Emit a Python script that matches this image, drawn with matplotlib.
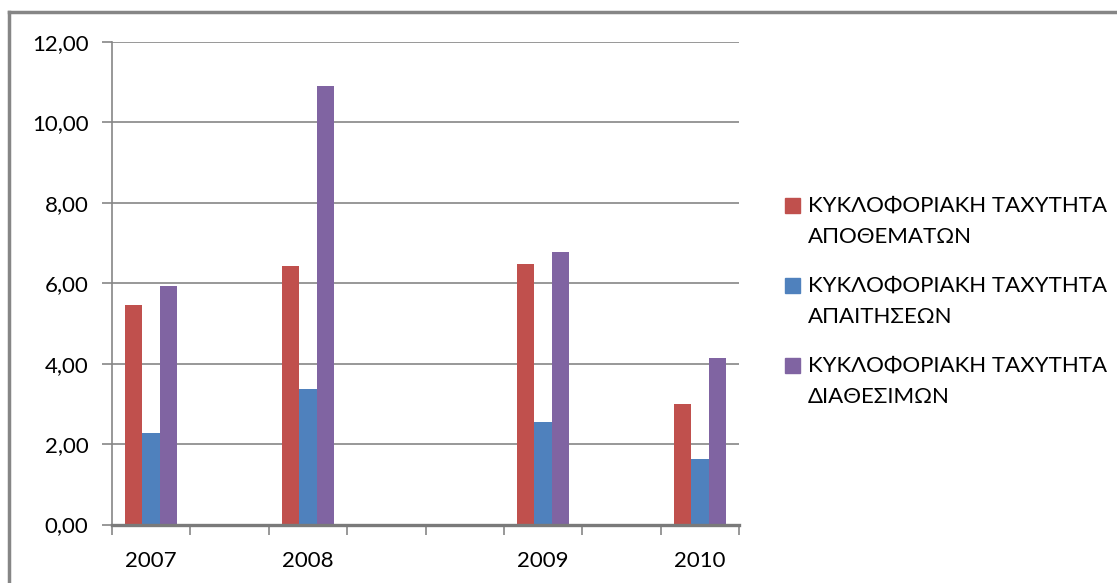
import matplotlib.pyplot as plt
import numpy as np
from matplotlib.ticker import FuncFormatter, FixedLocator
from matplotlib.lines import Line2D
from matplotlib.patches import Rectangle

# category axis with empty slots between the years
years = ['2007', '', '2008', '', '', '2009', '', '2010']
apothemata = [5.45, np.nan, 6.42, np.nan, np.nan, 6.47, np.nan, 2.99]
apaitiseis = [2.27, np.nan, 3.36, np.nan, np.nan, 2.54, np.nan, 1.64]
diathesima = [5.92, np.nan, 10.90, np.nan, np.nan, 6.77, np.nan, 4.13]
names = ['ΚΥΚΛΟΦΟΡΙΑΚΗ ΤΑΧΥΤΗΤΑ\nΑΠΟΘΕΜΑΤΩΝ',
         'ΚΥΚΛΟΦΟΡΙΑΚΗ ΤΑΧΥΤΗΤΑ\nΑΠΑΙΤΗΣΕΩΝ',
         'ΚΥΚΛΟΦΟΡΙΑΚΗ ΤΑΧΥΤΗΤΑ\nΔΙΑΘΕΣΙΜΩΝ']
colors = ['#C0504D', '#4F81BD', '#8064A2']

plt.rcParams['font.family'] = ['Lato', 'DejaVu Sans']
W, H = 1117, 583
fig = plt.figure(figsize=(W / 100, H / 100), dpi=100)
ax = fig.add_axes([112 / W, 1 - 524.5 / H, 627 / W, (524.5 - 42) / H])

x = np.arange(len(years))
w = 1 / 4.5
for i, (vals, c) in enumerate(zip([apothemata, apaitiseis, diathesima], colors)):
  ax.bar(x + (i - 1) * w, vals, width=w, color=c, zorder=3)

ax.set_xlim(-0.5, len(years) - 0.5)
ax.set_ylim(0, 12)
ax.set_yticks(np.arange(0, 12.1, 2))
ax.yaxis.set_major_formatter(FuncFormatter(lambda v, p: f'{v:.2f}'.replace('.', ',')))
ax.grid(axis='y', color='#868686', lw=1.2, zorder=0)

ax.set_xticks(x)
ax.set_xticklabels(years)
ax.xaxis.set_minor_locator(FixedLocator(np.arange(-0.5, len(years), 1)))
ax.tick_params(axis='x', which='major', length=0, pad=19, labelsize=16)
ax.tick_params(axis='x', which='minor', length=7, color='#868686', width=1.2)
ax.tick_params(axis='y', length=7, color='#868686', width=1.2, pad=10, labelsize=16)

for s in ['top', 'right']:
  ax.spines[s].set_visible(False)
ax.spines['left'].set_color('#868686')
ax.spines['left'].set_linewidth(1.2)
ax.spines['bottom'].set_color('#7a7a7a')
ax.spines['bottom'].set_linewidth(2.4)
ax.spines['bottom'].set_zorder(4)

# legend drawn by hand: square next to the first line of each label
for i, (n, c) in enumerate(zip(names, colors)):
  top = 198 + i * 80
  fig.patches.append(Rectangle((785 / W, 1 - (top + 15) / H), 15 / W, 15 / H,
                               transform=fig.transFigure, color=c))
  fig.text(808 / W, 1 - (top - 2) / H, n, fontsize=16, va='top', ha='left',
           linespacing=1.68)

# chart frame
fig.lines.append(Line2D([9.5 / W, 9.5 / W], [0, 1 - 12 / H], transform=fig.transFigure,
                        color='#868686', lw=2.5))
fig.lines.append(Line2D([9.5 / W, 1], [1 - 12 / H, 1 - 12 / H], transform=fig.transFigure,
                        color='#868686', lw=2.5))

fig.savefig('out.png', dpi=100)
